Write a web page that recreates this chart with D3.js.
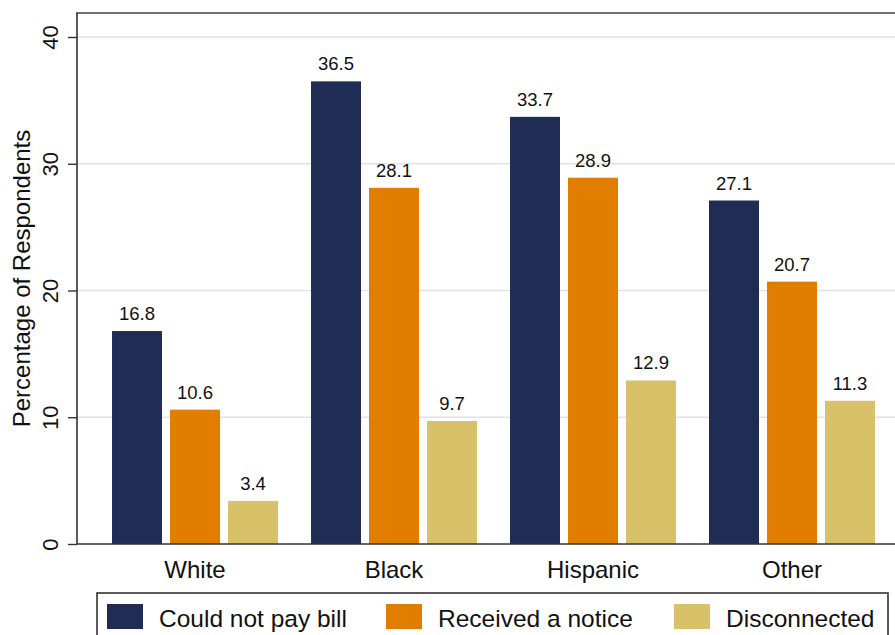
<!DOCTYPE html>
<html>
<head>
<meta charset="utf-8">
<script src="https://cdn.jsdelivr.net/npm/d3@7"></script>
<style>
  html, body { margin: 0; padding: 0; background: #fff; }
  svg { display: block; font-family: "Liberation Sans", Arial, sans-serif; }
</style>
</head>
<body>
<svg id="chart" width="895" height="635"></svg>
<script>
// Share of respondents facing energy hardship, by race/ethnicity
const categories = ["White", "Black", "Hispanic", "Other"];
const seriesNames = ["Could not pay bill", "Received a notice", "Disconnected"];
const couldNotPay = [16.8, 36.5, 33.7, 27.1];
const receivedNotice = [10.6, 28.1, 28.9, 20.7];
const disconnected = [3.4, 9.7, 12.9, 11.3];
const yTicks = [0, 10, 20, 30, 40];
const colors = ["#1f2d55", "#e17e00", "#d8c168"];

const seriesValues = [couldNotPay, receivedNotice, disconnected];
const rows = categories.map((c, i) => ({
  category: c,
  values: seriesNames.map((s, k) => ({ series: s, k, value: seriesValues[k][i] }))
}));

const svg = d3.select("#chart");
const plotLeft = 77, plotTop = 13, zeroY = 544, plotRight = 910;

const x0 = d3.scaleBand().domain(categories)
  .range([plotLeft, plotRight]).paddingInner(0.166).paddingOuter(0.176);
const x1 = d3.scaleBand().domain(seriesNames)
  .range([0, x0.bandwidth()]).paddingInner(0.138).paddingOuter(0);
const y = d3.scaleLinear().domain([0, 40]).range([zeroY, 37]);
const color = d3.scaleOrdinal().domain(seriesNames).range(colors);

// gridlines
svg.append("g").selectAll("line").data(yTicks.filter(d => d > 0)).join("line")
  .attr("x1", plotLeft).attr("x2", 895)
  .attr("y1", d => y(d)).attr("y2", d => y(d))
  .attr("stroke", "#e2e2e2").attr("stroke-width", 1.5);

// top frame line
svg.append("line").attr("x1", plotLeft - 1).attr("x2", 895)
  .attr("y1", plotTop).attr("y2", plotTop)
  .attr("stroke", "#444").attr("stroke-width", 1.6);

// bars
const groups = svg.append("g").selectAll("g").data(rows).join("g")
  .attr("transform", d => `translate(${x0(d.category)},0)`);

groups.selectAll("rect").data(d => d.values).join("rect")
  .attr("x", d => x1(d.series))
  .attr("y", d => y(d.value))
  .attr("width", x1.bandwidth())
  .attr("height", d => y(0) - y(d.value))
  .attr("fill", d => color(d.series));

groups.selectAll("text").data(d => d.values).join("text")
  .attr("x", d => x1(d.series) + x1.bandwidth() / 2)
  .attr("y", d => y(d.value) - 11)
  .attr("text-anchor", "middle")
  .attr("font-size", 18.5)
  .attr("fill", "#111")
  .text(d => d.value.toFixed(1));

// y axis
const yAxis = d3.axisLeft(y).tickValues(yTicks).tickSize(9).tickPadding(0).tickFormat(d3.format("d"));
const gy = svg.append("g").attr("transform", `translate(${plotLeft},0)`).call(yAxis);
gy.select(".domain").attr("stroke", "#333").attr("stroke-width", 1.6)
  .attr("d", `M0,${plotTop}V${zeroY}`);
gy.selectAll(".tick line").attr("stroke", "#333").attr("stroke-width", 1.4);
gy.selectAll(".tick text")
  .attr("font-size", 22).attr("fill", "#111")
  .attr("text-anchor", "middle")
  .attr("transform", null)
  .attr("x", null).attr("dy", null)
  .attr("transform", "translate(-19,0) rotate(-90)")
  .attr("y", 0);

// x axis
const xAxis = d3.axisBottom(x0).tickSize(0).tickPadding(0);
const gx = svg.append("g").attr("transform", `translate(0,${zeroY})`).call(xAxis);
gx.select(".domain").attr("stroke", "#333").attr("stroke-width", 1.6)
  .attr("d", `M${plotLeft},0H895`);
gx.selectAll(".tick text").attr("font-size", 24).attr("fill", "#111")
  .attr("dy", null).attr("y", 34);

// y-axis title
svg.append("text")
  .attr("transform", `translate(30,${(plotTop + zeroY) / 2}) rotate(-90)`)
  .attr("text-anchor", "middle")
  .attr("font-size", 24).attr("fill", "#111")
  .text("Percentage of Respondents");

// legend
const legend = svg.append("g");
legend.append("rect").attr("x", 97).attr("y", 593).attr("width", 791).attr("height", 60)
  .attr("fill", "#fff").attr("stroke", "#333").attr("stroke-width", 1.6);
const legendX = [107, 386, 674];
const items = legend.selectAll("g.item").data(seriesNames).join("g")
  .attr("class", "item")
  .attr("transform", (d, i) => `translate(${legendX[i]},604)`);
items.append("rect").attr("width", 36).attr("height", 25)
  .attr("fill", d => color(d));
items.append("text").attr("x", 52).attr("y", 23)
  .attr("font-size", 24.5).attr("fill", "#111").text(d => d);
</script>
</body>
</html>
